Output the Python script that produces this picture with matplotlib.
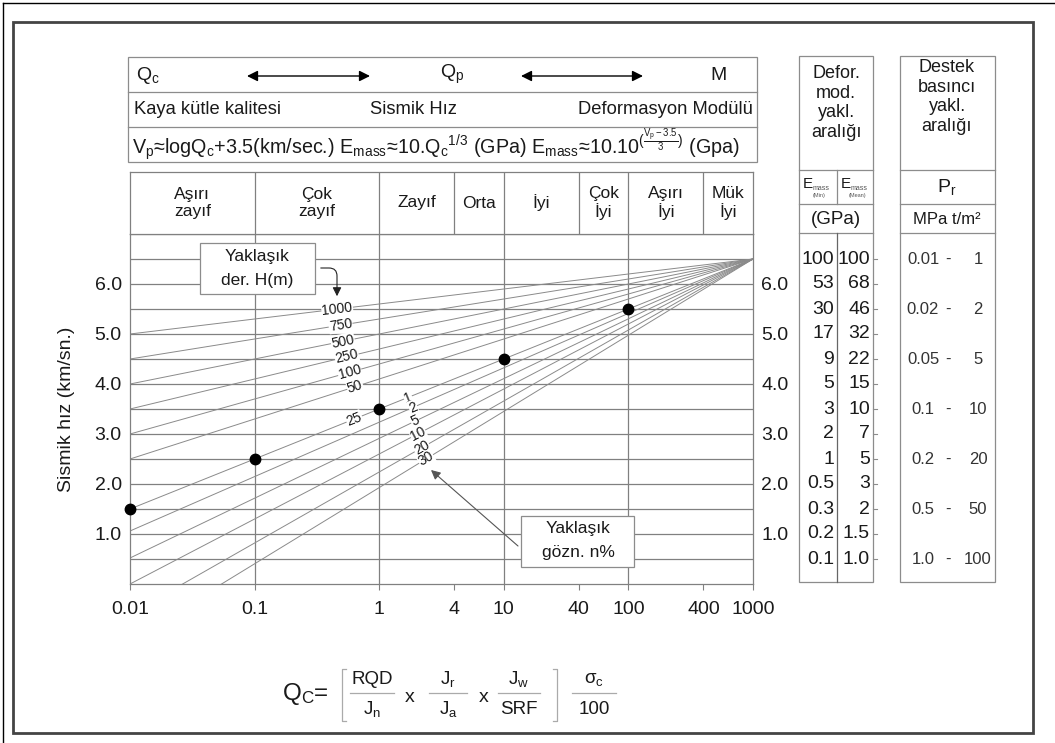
import numpy as np
import matplotlib.pyplot as plt
from matplotlib.patches import Rectangle, FancyArrowPatch

plt.rcParams['font.family'] = ['Liberation Sans', 'DejaVu Sans']
plt.rcParams['mathtext.fontset'] = 'custom'
plt.rcParams['mathtext.rm'] = 'Liberation Sans'
plt.rcParams['mathtext.it'] = 'Liberation Sans:italic'
plt.rcParams['mathtext.default'] = 'regular'

W, H = 1055, 743
GRID = '#808080'
FAN = '#8a8a8a'
BOX = '#8c8c8c'
INK = '#1a1a1a'

# --- data -------------------------------------------------------------
q_ticks = [0.01, 0.1, 1, 4, 10, 40, 100, 400, 1000]
q_tick_labels = ['0.01', '0.1', '1', '4', '10', '40', '100', '400', '1000']
vp_ticks = [1.0, 2.0, 3.0, 4.0, 5.0, 6.0]
vp_rows = [6.5, 6.0, 5.5, 5.0, 4.5, 4.0, 3.5, 3.0, 2.5, 2.0, 1.5, 1.0, 0.5]

class_bounds = [0.01, 0.1, 1, 4, 10, 40, 100, 400, 1000]
class_names = ['Aşırı\nzayıf', 'Çok\nzayıf', 'Zayıf', 'Orta', 'İyi',
               'Çok\nİyi', 'Aşırı\nİyi', 'Mük\nİyi']

# Vp = log(Qc) + 3.5
qc_pts = [0.01, 0.1, 1, 10, 100]
vp_pts = [1.5, 2.5, 3.5, 4.5, 5.5]

# all fan lines meet at this point
pivot_q, pivot_vp = 1000, 6.5
# depth lines: Vp at Qc = 0.01
depth_h = ['1000', '750', '500', '250', '100', '50', '25']
depth_vp = [5.0, 4.5, 4.0, 3.5, 3.0, 2.5, 1.5]
depth_lbl_q = [0.46, 0.49, 0.51, 0.55, 0.58, 0.64, 0.63]
# porosity lines: Vp at Qc = 0.01
poro_n = ['1', '2', '5', '10', '20', '30']
poro_vp = [1.5, 1.06, 0.52, 0.0, -0.6, -1.12]
poro_lbl_q = [1.70, 1.87, 1.94, 2.05, 2.20, 2.38]

e_min = ['100', '53', '30', '17', '9', '5', '3', '2', '1', '0.5', '0.3', '0.2', '0.1']
e_mean = ['100', '68', '46', '32', '22', '15', '10', '7', '5', '3', '2', '1.5', '1.0']

pr_rows = [6.5, 5.5, 4.5, 3.5, 2.5, 1.5, 0.5]
pr_mpa = ['0.01', '0.02', '0.05', '0.1', '0.2', '0.5', '1.0']
pr_tm2 = ['1', '2', '5', '10', '20', '50', '100']


def px_rect(x0, y0, x1, y1):
    return [x0 / W, 1 - y1 / H, (x1 - x0) / W, (y1 - y0) / H]


fig = plt.figure(figsize=(W / 100, H / 100), dpi=100)

# --- main log chart ---------------------------------------------------
ax = fig.add_axes(px_rect(130, 234, 753, 584))
ax.set_xscale('log')
ax.set_xlim(0.01, 1000)
ax.set_ylim(0, 7.0)
for s in ax.spines.values():
    s.set_color(GRID)
    s.set_linewidth(0.9)

ax.hlines(vp_rows, 0.01, 1000, color=GRID, lw=0.9, zorder=1)
ax.vlines([0.1, 1, 10, 100], 0, 7.0, color=GRID, lw=0.9, zorder=1)

qq = np.array([0.01, pivot_q])
for v0 in depth_vp + poro_vp[1:]:
    ax.plot(qq, [v0, pivot_vp], color=FAN, lw=0.7, zorder=2)

ax.plot(qc_pts, vp_pts, 'o', color='black', ms=7.5, zorder=6, clip_on=False)


def fan_y(v0, q):
    slope = (pivot_vp - v0) / (np.log10(pivot_q) + 2)
    return v0 + slope * (np.log10(q) + 2)


def fan_angle(v0, q):
    p1 = ax.transData.transform((q, fan_y(v0, q)))
    p2 = ax.transData.transform((q * 1.2, fan_y(v0, q * 1.2)))
    return np.degrees(np.arctan2(p2[1] - p1[1], p2[0] - p1[0]))


for lbl, v0, q in zip(depth_h, depth_vp, depth_lbl_q):
    ax.text(q, fan_y(v0, q), lbl, fontsize=10, color=INK, ha='center', va='center',
            rotation=fan_angle(v0, q), rotation_mode='anchor', zorder=4,
            bbox=dict(fc='white', ec='none', pad=0.3))
for lbl, v0, q in zip(poro_n, poro_vp, poro_lbl_q):
    ax.text(q, fan_y(v0, q), lbl, fontsize=10, color=INK, ha='center', va='center',
            rotation=fan_angle(v0, q), rotation_mode='anchor', zorder=4,
            bbox=dict(fc='white', ec='none', pad=0.3))

ax.set_xticks(q_ticks)
ax.set_xticklabels(q_tick_labels)
ax.xaxis.set_minor_locator(plt.NullLocator())
ax.tick_params(axis='x', direction='out', length=4, width=0.8, color=GRID,
               labelsize=14, pad=8, labelcolor=INK)
ax.set_yticks(vp_ticks)
ax.set_yticklabels([f'{v:.1f}' for v in vp_ticks])
ax.tick_params(axis='y', length=0, labelsize=14, pad=6, labelcolor=INK,
               labelright=True)
ax.set_ylabel('Sismik hız (km/sn.)', fontsize=14, color=INK, labelpad=14)

# --- rock class row ---------------------------------------------------
axc = fig.add_axes(px_rect(130, 172, 753, 234))
axc.set_xscale('log')
axc.set_xlim(0.01, 1000)
axc.set_ylim(0, 1)
axc.set_xticks([])
axc.set_yticks([])
axc.xaxis.set_minor_locator(plt.NullLocator())
for s in axc.spines.values():
    s.set_color(GRID)
    s.set_linewidth(0.9)
axc.vlines(class_bounds[1:-1], 0, 1, color=GRID, lw=0.9)
for a, b, name in zip(class_bounds[:-1], class_bounds[1:], class_names):
    axc.text(np.sqrt(a * b), 0.5, name, ha='center', va='center', fontsize=12.5,
             color=INK, linespacing=1.1)

# --- overlay in pixel units --------------------------------------------
ov = fig.add_axes([0, 0, 1, 1], zorder=5)
ov.set_xlim(0, W)
ov.set_ylim(H, 0)
ov.axis('off')
ov.patch.set_alpha(0)


def ypx(v):
    return H - ax.transData.transform((1, v))[1]


# frames
ov.plot([3, 3], [3, H], color='black', lw=1)
ov.plot([3, W], [3, 3], color='black', lw=1)
ov.add_patch(Rectangle((13, 22), 1020, 711, fill=False, ec='#444444', lw=2))

# header table
ov.add_patch(Rectangle((128, 57), 629, 105, fill=False, ec=BOX, lw=0.9))
ov.plot([128, 757], [92, 92], color=BOX, lw=0.9)
ov.plot([128, 757], [127, 127], color=BOX, lw=0.9)
ov.text(136, 75, 'Q$_c$', fontsize=14, ha='left', va='center', color=INK)
ov.text(452, 74, 'Q$_p$', fontsize=14, ha='center', va='center', color=INK)
ov.text(718, 75, 'M', fontsize=14, ha='center', va='center', color=INK)
for x0, x1 in [(247, 370), (521, 643)]:
    ov.annotate('', xy=(x1, 76), xytext=(x0, 76),
                arrowprops=dict(arrowstyle='<|-|>', color='black', lw=1,
                                mutation_scale=16, shrinkA=0, shrinkB=0))
ov.text(134, 109, 'Kaya kütle kalitesi', fontsize=13.2, ha='left', va='center', color=INK)
ov.text(413, 109, 'Sismik Hız', fontsize=13.2, ha='center', va='center', color=INK)
ov.text(753, 109, 'Deformasyon Modülü', fontsize=13.2, ha='right', va='center', color=INK)
ov.text(132, 145,
        r'V$_p$≈logQ$_c$+3.5(km/sec.) E$_{mass}$≈10.Q$_c$$^{1/3}$ (GPa) '
        r'E$_{mass}$≈10.10$^{(\frac{V_p-3.5}{3})}$ (Gpa)',
        fontsize=14.2, ha='left', va='center', color=INK)

# deformation modulus column
ov.add_patch(Rectangle((799, 56), 74, 526, fill=False, ec=BOX, lw=0.9))
for y in (170, 204, 233):
    ov.plot([799, 873], [y, y], color=BOX, lw=0.9)
ov.plot([837, 837], [170, 204], color=BOX, lw=0.9)
ov.plot([837, 837], [233, 582], color='#666666', lw=0.9)
ov.text(836, 103, 'Defor.\nmod.\nyakl.\naralığı', fontsize=13, ha='center',
        va='center', color=INK, linespacing=1.18)
for x0, sub in [(803, '(Min)'), (841, '(Mean)')]:
    ov.text(x0, 184, 'E', fontsize=11, ha='left', va='center', color=INK)
    ov.text(x0 + 10, 188, 'mass', fontsize=5, ha='left', va='center', color='#555555')
    ov.text(x0 + 16, 196, sub, fontsize=4, ha='center', va='center', color='#555555')
ov.text(836, 219, '(GPa)', fontsize=13.5, ha='center', va='center', color=INK)
for v, a, b in zip(vp_rows, e_min, e_mean):
    y = ypx(v)
    ov.text(834, y, a, fontsize=14, ha='right', va='center', color=INK)
    ov.text(870, y, b, fontsize=14, ha='right', va='center', color=INK)
    ov.plot([873, 877], [y, y], color=BOX, lw=0.8)

# support pressure column
ov.add_patch(Rectangle((900, 56), 95, 526, fill=False, ec=BOX, lw=0.9))
for y in (170, 204, 233):
    ov.plot([900, 995], [y, y], color=BOX, lw=0.9)
ov.text(947, 97, 'Destek\nbasıncı\nyakl.\naralığı', fontsize=13, ha='center',
        va='center', color=INK, linespacing=1.18)
ov.text(947, 187, 'P$_r$', fontsize=14, ha='center', va='center', color=INK)
ov.text(947, 219, 'MPa t/m²', fontsize=12, ha='center', va='center', color=INK)
for v, a, b in zip(pr_rows, pr_mpa, pr_tm2):
    y = ypx(v)
    ov.text(923, y, a, fontsize=12, ha='center', va='center', color='#333333')
    ov.text(948, y, '-', fontsize=12, ha='center', va='center', color='#333333')
    ov.text(978, y, b, fontsize=12, ha='center', va='center', color='#333333')

# callout boxes
ov.add_patch(Rectangle((200, 243), 115, 51, fc='white', ec=BOX, lw=0.9, zorder=3))
ov.text(257, 257, 'Yaklaşık', fontsize=12.5, ha='center', va='center', color=INK, zorder=4)
ov.text(257, 280, 'der. H(m)', fontsize=12.5, ha='center', va='center', color=INK, zorder=4)
ov.add_patch(FancyArrowPatch((318, 268), (337, 299),
                             connectionstyle='angle,angleA=0,angleB=90,rad=8',
                             arrowstyle='-|>', mutation_scale=13, color='#222222', lw=0.8))

ov.add_patch(Rectangle((521, 516), 113, 51, fc='white', ec=BOX, lw=0.9, zorder=3))
ov.text(578, 529, 'Yaklaşık', fontsize=12.5, ha='center', va='center', color=INK, zorder=4)
ov.text(578, 552, 'gözn. n%', fontsize=12.5, ha='center', va='center', color=INK, zorder=4)
ov.add_patch(FancyArrowPatch((518, 546), (431, 470), arrowstyle='-|>',
                             mutation_scale=14, color='#555555', lw=0.8,
                             shrinkA=0, shrinkB=0))

# Q formula
fy_num, fy_bar, fy_den = 679, 693, 709
ov.text(282, 694, 'Q$_C$=', fontsize=17.5, ha='left', va='center', color=INK)
for xb, d in [(342, 4), (557, -4)]:
    ov.plot([xb + d, xb, xb, xb + d], [669, 669, 721, 721], color='#aaaaaa', lw=0.9)
for xc, num, den, hw in [(372, 'RQD', 'J$_n$', 22), (448, 'J$_r$', 'J$_a$', 19),
                         (519, 'J$_w$', 'SRF', 21), (594, 'σ$_c$', '100', 22)]:
    ov.text(xc, fy_num, num, fontsize=13.5, ha='center', va='center', color=INK)
    ov.plot([xc - hw, xc + hw], [fy_bar, fy_bar], color='#aaaaaa', lw=0.9)
    ov.text(xc, fy_den, den, fontsize=13.5, ha='center', va='center', color=INK)
for xc in (410, 484):
    ov.text(xc, 697, 'x', fontsize=14, ha='center', va='center', color=INK)

fig.savefig('out.png', dpi=100, facecolor='white')
